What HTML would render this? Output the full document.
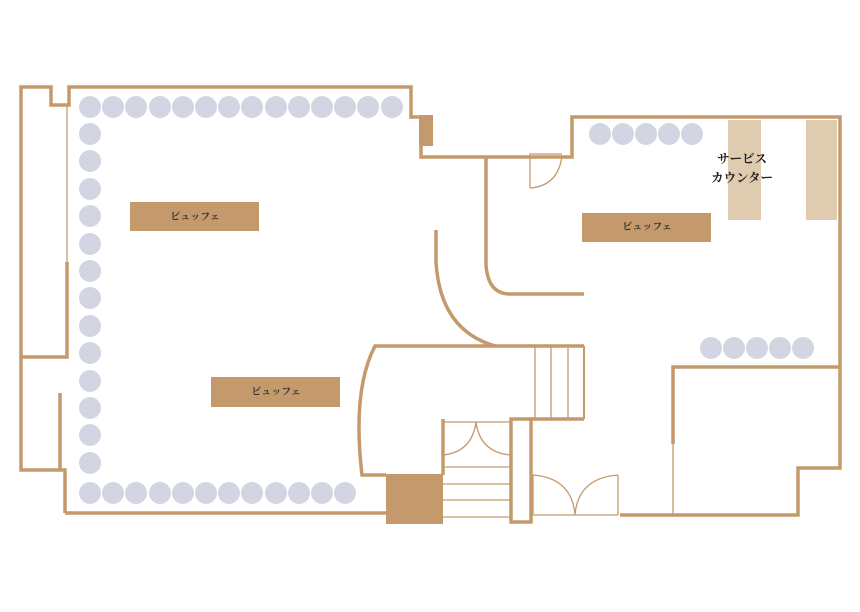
<!DOCTYPE html>
<html><head><meta charset="utf-8"><style>
html,body{margin:0;padding:0;background:#fff;width:860px;height:612px;overflow:hidden}
svg{display:block}
text{font-family:"Liberation Serif","Noto Serif CJK SC",serif}
</style></head><body>
<svg width="860" height="612" viewBox="0 0 860 612" xmlns="http://www.w3.org/2000/svg">
<g fill="none" stroke="#c49a6c" stroke-width="3.5">
<polyline points="65,513 65,470 21,470 21,87 51,87 51,105 69,105 69,87 411,87 411,117 421,117 421,157 572,157 572,117 840,117 840,468 798,468 798,515 620,515"/>
<line x1="65" y1="513" x2="386" y2="513"/>
<polyline points="67,262 67,357 21,357"/>
<line x1="60" y1="393" x2="60" y2="470"/>
<path d="M386,475 L362,475 Q352,390 375,346 L584,346"/>
<line x1="530" y1="419" x2="584" y2="419"/>
<path d="M436,230 L436,262 Q440,330 495,346"/>
<path d="M486,157 L486,265 Q488,294 510,294 L584,294"/>
<polyline points="840,367 673,367 673,444"/>
<rect x="511" y="419" width="20" height="103"/>
<line x1="443" y1="419" x2="443" y2="475"/>
</g>
<g stroke="#c49a6c" stroke-width="1.3" fill="none">
<line x1="67" y1="105" x2="67" y2="262"/>
<line x1="673" y1="444" x2="673" y2="515"/>
<line x1="551" y1="346" x2="551" y2="418"/>
<line x1="568" y1="346" x2="568" y2="418"/>
<line x1="535" y1="346" x2="535" y2="418"/>
<line x1="584" y1="346" x2="584" y2="419" stroke-width="2"/>
<line x1="443" y1="422" x2="510" y2="422"/>
<line x1="443" y1="467" x2="510" y2="467"/>
<line x1="443" y1="484" x2="510" y2="484"/>
<line x1="443" y1="500" x2="510" y2="500"/>
<line x1="443" y1="517" x2="510" y2="517"/>
<path d="M443,455 Q472,452 476,422 Q480,452 510,455"/>
<line x1="533" y1="475" x2="533" y2="515"/>
<line x1="618" y1="475" x2="618" y2="515"/>
<line x1="533" y1="515" x2="618" y2="515"/>
<path d="M533,475 Q572,478 575,515 Q578,478 618,475"/>
<polyline points="530,188 530,154 562,154"/>
<path d="M530,188 Q558,186 562,156"/>
</g>
<rect x="419" y="115" width="14" height="31" fill="#c49a6c"/>
<rect x="386" y="474" width="57" height="50" fill="#c49a6c"/>
<g fill="#c49a6c">
<rect x="130" y="202" width="129" height="29"/>
<rect x="211" y="377" width="129" height="30"/>
<rect x="582" y="213" width="129" height="29"/>
</g>
<g fill="#dfcbb0">
<rect x="728" y="120" width="33" height="100"/>
<rect x="806" y="120" width="31" height="100"/>
</g>
<g font-size="10" fill="#333" text-anchor="middle" font-weight="bold">
<text x="195" y="220">ビュッフェ</text>
<text x="276" y="395">ビュッフェ</text>
<text x="647" y="230">ビュッフェ</text>
</g>
<g font-size="12.5" fill="#222" text-anchor="middle" font-weight="bold">
<text x="742" y="163">サービス</text>
<text x="742" y="182">カウンター</text>
</g>
<g fill="#d3d5e3">
<circle cx="90" cy="107" r="11"/><circle cx="113" cy="107" r="11"/><circle cx="136" cy="107" r="11"/><circle cx="160" cy="107" r="11"/><circle cx="183" cy="107" r="11"/><circle cx="206" cy="107" r="11"/><circle cx="229" cy="107" r="11"/><circle cx="252" cy="107" r="11"/><circle cx="276" cy="107" r="11"/><circle cx="299" cy="107" r="11"/><circle cx="322" cy="107" r="11"/><circle cx="345" cy="107" r="11"/><circle cx="368" cy="107" r="11"/><circle cx="392" cy="107" r="11"/>
<circle cx="90" cy="134" r="11"/><circle cx="90" cy="161" r="11"/><circle cx="90" cy="189" r="11"/><circle cx="90" cy="216" r="11"/><circle cx="90" cy="244" r="11"/><circle cx="90" cy="271" r="11"/><circle cx="90" cy="298" r="11"/><circle cx="90" cy="326" r="11"/><circle cx="90" cy="353" r="11"/><circle cx="90" cy="381" r="11"/><circle cx="90" cy="408" r="11"/><circle cx="90" cy="435" r="11"/><circle cx="90" cy="463" r="11"/>
<circle cx="90" cy="493" r="11"/><circle cx="113" cy="493" r="11"/><circle cx="136" cy="493" r="11"/><circle cx="160" cy="493" r="11"/><circle cx="183" cy="493" r="11"/><circle cx="206" cy="493" r="11"/><circle cx="229" cy="493" r="11"/><circle cx="252" cy="493" r="11"/><circle cx="276" cy="493" r="11"/><circle cx="299" cy="493" r="11"/><circle cx="322" cy="493" r="11"/><circle cx="345" cy="493" r="11"/>
<circle cx="600" cy="134" r="11"/><circle cx="623" cy="134" r="11"/><circle cx="646" cy="134" r="11"/><circle cx="669" cy="134" r="11"/><circle cx="692" cy="134" r="11"/>
<circle cx="711" cy="348" r="11"/><circle cx="734" cy="348" r="11"/><circle cx="757" cy="348" r="11"/><circle cx="780" cy="348" r="11"/><circle cx="803" cy="348" r="11"/>
</g>
</svg>
</body></html>
